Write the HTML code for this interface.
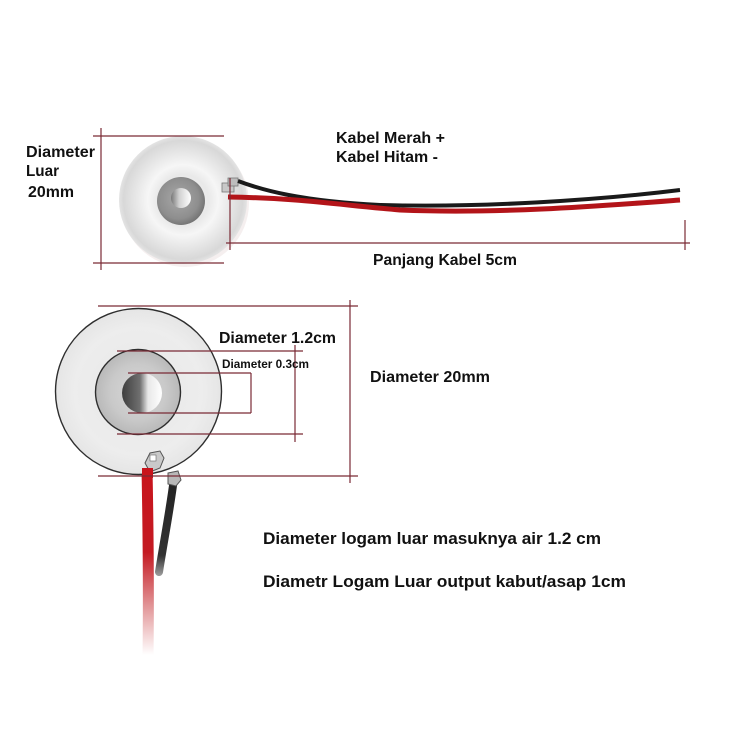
<!DOCTYPE html>
<html><head><meta charset="utf-8"><style>
html,body{margin:0;padding:0;background:#fff;}
svg{display:block;}
text{font-family:"Liberation Sans",Arial,sans-serif;font-weight:bold;fill:#111;}
</style></head><body>
<svg width="750" height="750" viewBox="0 0 750 750" xmlns="http://www.w3.org/2000/svg">
<defs>
  <radialGradient id="topDisc" cx="0.5" cy="0.5" r="0.5">
    <stop offset="0" stop-color="#eeeeee"/>
    <stop offset="0.4" stop-color="#e9e9e9"/>
    <stop offset="0.55" stop-color="#f6f6f6"/>
    <stop offset="0.75" stop-color="#e6e6e6"/>
    <stop offset="0.93" stop-color="#d8d8d8"/>
    <stop offset="1" stop-color="#e4e4e4"/>
  </radialGradient>
  <radialGradient id="topMetal" cx="0.45" cy="0.45" r="0.6">
    <stop offset="0" stop-color="#a8a8a8"/>
    <stop offset="0.7" stop-color="#8e8e8e"/>
    <stop offset="1" stop-color="#6e6e6e"/>
  </radialGradient>
  <radialGradient id="lowDisc" cx="0.5" cy="0.5" r="0.55">
    <stop offset="0" stop-color="#e6e6e6"/>
    <stop offset="0.7" stop-color="#ededed"/>
    <stop offset="1" stop-color="#e2e2e2"/>
  </radialGradient>
  <radialGradient id="lowMetal" cx="0.5" cy="0.5" r="0.55">
    <stop offset="0" stop-color="#d8d8d8"/>
    <stop offset="0.6" stop-color="#c9c9c9"/>
    <stop offset="1" stop-color="#b4b4b4"/>
  </radialGradient>
  <linearGradient id="hole" x1="0" y1="0" x2="1" y2="0">
    <stop offset="0" stop-color="#3e3e3e"/>
    <stop offset="0.45" stop-color="#707070"/>
    <stop offset="0.65" stop-color="#e8e8e8"/>
    <stop offset="1" stop-color="#ffffff"/>
  </linearGradient>
  <linearGradient id="holeTop" x1="0" y1="0" x2="1" y2="0">
    <stop offset="0" stop-color="#777"/>
    <stop offset="0.4" stop-color="#d0d0d0"/>
    <stop offset="1" stop-color="#ffffff"/>
  </linearGradient>
  <linearGradient id="redFade" gradientUnits="userSpaceOnUse" x1="0" y1="468" x2="0" y2="655">
    <stop offset="0" stop-color="#c8141c"/>
    <stop offset="0.45" stop-color="#c41a22"/>
    <stop offset="0.75" stop-color="#e39a9c"/>
    <stop offset="1" stop-color="#ffffff"/>
  </linearGradient>
  <linearGradient id="blackFade" gradientUnits="userSpaceOnUse" x1="0" y1="478" x2="0" y2="575">
    <stop offset="0" stop-color="#222"/>
    <stop offset="0.8" stop-color="#333"/>
    <stop offset="1" stop-color="#999"/>
  </linearGradient>
</defs>

<rect width="750" height="750" fill="#fff"/>

<!-- ============ TOP DISC ============ -->
<circle cx="185" cy="203" r="64" fill="#eee4e4" opacity="0.6"/>
<circle cx="183" cy="200" r="64" fill="url(#topDisc)"/>
<circle cx="181" cy="201" r="24" fill="url(#topMetal)"/>
<circle cx="181" cy="198" r="10" fill="url(#holeTop)"/>

<!-- top terminal -->
<rect x="222" y="183" width="12" height="9" fill="#c8c8c8" stroke="#777" stroke-width="0.8"/>
<rect x="228" y="178" width="10" height="8" fill="#bdbdbd" stroke="#777" stroke-width="0.8"/>

<!-- top wires -->
<path d="M238,181 C262,190 300,201 380,205 C480,208 600,200 680,190" fill="none" stroke="#1a1a1a" stroke-width="4"/>
<path d="M228,197 C300,198 340,205 400,210 C500,214 600,206 680,200" fill="none" stroke="#b31419" stroke-width="5"/>

<!-- top dimension lines -->
<g stroke="#7a2a35" stroke-width="1.2" fill="none">
  <line x1="101" y1="128" x2="101" y2="270"/>
  <line x1="93" y1="136" x2="224" y2="136"/>
  <line x1="93" y1="263" x2="224" y2="263"/>
  <line x1="230" y1="178" x2="230" y2="250"/>
  <line x1="226" y1="243" x2="690" y2="243"/>
  <line x1="685" y1="220" x2="685" y2="250"/>
</g>

<!-- top labels -->
<text x="26" y="157" font-size="15.5" textLength="69" lengthAdjust="spacingAndGlyphs">Diameter</text>
<text x="26" y="176" font-size="15.5" textLength="33" lengthAdjust="spacingAndGlyphs">Luar</text>
<text x="28" y="197" font-size="15.5" textLength="46" lengthAdjust="spacingAndGlyphs">20mm</text>
<text x="336" y="143" font-size="16" textLength="109" lengthAdjust="spacingAndGlyphs">Kabel Merah +</text>
<text x="336" y="162" font-size="16" textLength="102" lengthAdjust="spacingAndGlyphs">Kabel Hitam -</text>
<text x="373" y="265" font-size="16" textLength="144" lengthAdjust="spacingAndGlyphs">Panjang Kabel 5cm</text>

<!-- ============ LOWER DISC ============ -->
<path d="M147,468 C148,520 149,580 148,655" fill="none" stroke="url(#redFade)" stroke-width="11"/>
<path d="M174,478 C170,510 164,540 159,572" fill="none" stroke="url(#blackFade)" stroke-width="8" stroke-linecap="round"/>

<circle cx="138.5" cy="391.5" r="83" fill="url(#lowDisc)" stroke="#2e2e2e" stroke-width="1.4"/>
<circle cx="138" cy="392" r="42.5" fill="url(#lowMetal)" stroke="#2e2e2e" stroke-width="1.4"/>
<circle cx="142" cy="393" r="20" fill="url(#hole)"/>

<!-- lower terminals -->
<path d="M145,463 L150,453 L160,451 L164,458 L160,468 L150,472 Z" fill="#c9c9c9" stroke="#555" stroke-width="1"/>
<rect x="150" y="455" width="6" height="6" fill="#fff" stroke="#666" stroke-width="0.6"/>
<rect x="142" y="468" width="11" height="10" fill="#c8141c"/>
<path d="M168,473 L178,471 L181,480 L176,486 L168,484 Z" fill="#b8b8b8" stroke="#555" stroke-width="1"/>

<!-- lower dimension lines -->
<g stroke="#7a2a35" stroke-width="1.2" fill="none">
  <line x1="98" y1="306" x2="358" y2="306"/>
  <line x1="98" y1="476" x2="358" y2="476"/>
  <line x1="350" y1="300" x2="350" y2="483"/>
  <line x1="117" y1="351" x2="303" y2="351"/>
  <line x1="117" y1="434" x2="303" y2="434"/>
  <line x1="295" y1="345" x2="295" y2="442"/>
  <line x1="128" y1="373" x2="251" y2="373"/>
  <line x1="128" y1="413" x2="251" y2="413"/>
  <line x1="251" y1="373" x2="251" y2="413"/>
</g>

<!-- lower labels -->
<text x="219" y="343" font-size="16" textLength="117" lengthAdjust="spacingAndGlyphs">Diameter 1.2cm</text>
<text x="222" y="368" font-size="11.5" textLength="87" lengthAdjust="spacingAndGlyphs">Diameter 0.3cm</text>
<text x="370" y="382" font-size="16" textLength="120" lengthAdjust="spacingAndGlyphs">Diameter 20mm</text>

<text x="263" y="544" font-size="16.5" textLength="338" lengthAdjust="spacingAndGlyphs">Diameter logam luar masuknya air 1.2 cm</text>
<text x="263" y="587" font-size="16.5" textLength="363" lengthAdjust="spacingAndGlyphs">Diametr Logam Luar output kabut/asap 1cm</text>
</svg>
</body></html>
